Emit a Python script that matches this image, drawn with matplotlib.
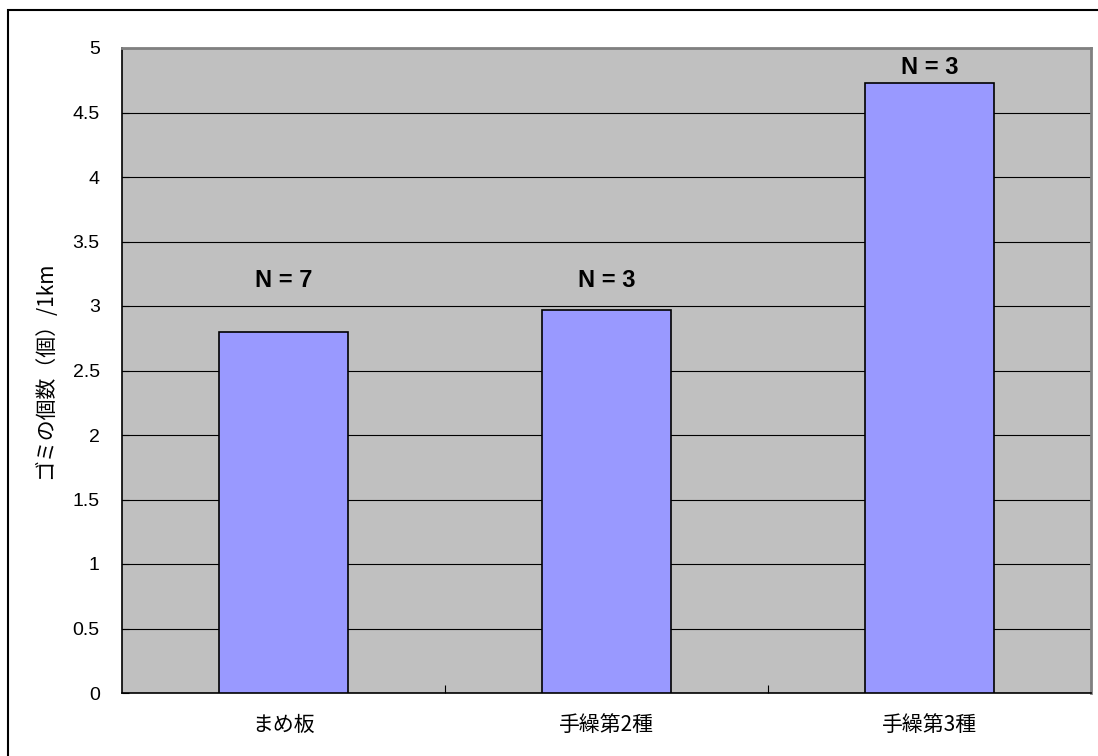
import matplotlib
matplotlib.use("Agg")
import matplotlib.pyplot as plt
from matplotlib.patches import Rectangle

plt.rcParams['font.family'] = ['Noto Sans CJK JP', 'DejaVu Sans']
NUM_FONT = ['Liberation Sans', 'DejaVu Sans']

categories = ["まめ板", "手繰第2種", "手繰第3種"]
values = [2.80, 2.97, 4.73]
n_labels = ["N = 7", "N = 3", "N = 3"]
n_label_y = [3.2, 3.2, 4.85]
yticks = [0, 0.5, 1, 1.5, 2, 2.5, 3, 3.5, 4, 4.5, 5]
ytick_labels = ["0", "0.5", "1", "1.5", "2", "2.5", "3", "3.5", "4", "4.5", "5"]
ylabel = "ゴミの個数（個）/1km"

fig = plt.figure(figsize=(10.98, 7.56), dpi=100)
fig.patch.set_facecolor("white")
# outer frame (only top/left visible in reference)
fig.add_artist(Rectangle((8/1098, -0.05), 1.2, 1 - 10/756 + 0.05, transform=fig.transFigure,
                         fill=False, edgecolor="black", linewidth=1.5))

ax = fig.add_axes([122/1098, 1 - 693/756, (1091 - 122)/1098, (693 - 48)/756])
ax.set_facecolor("#c0c0c0")
x = list(range(len(categories)))
ax.bar(x, values, width=0.4, color="#9999ff", edgecolor="black", linewidth=1.2, zorder=3)
ax.set_xlim(-0.5, len(categories) - 0.5)
ax.set_ylim(0, 5)
ax.set_yticks(yticks)
ax.set_yticklabels(ytick_labels, fontsize=14, family=NUM_FONT)
ax.yaxis.grid(True, color="black", linewidth=0.8, zorder=1)
ax.set_axisbelow(True)
ax.set_xticks([i + 0.5 for i in x[:-1]])
ax.set_xticklabels([])
ax.tick_params(axis="x", direction="in", length=6, width=0.8)
ax.tick_params(axis="y", direction="in", length=5, width=0.8, pad=16)
for i, c in enumerate(categories):
    ax.text(i, -0.16, c, ha="center", va="top", fontsize=15, transform=ax.transData)
for i, (lab, yy) in enumerate(zip(n_labels, n_label_y)):
    ax.text(i, yy, lab, ha="center", va="center", fontsize=17, fontweight="bold",
            family=NUM_FONT, zorder=4)
ax.set_ylabel(ylabel, fontsize=15, labelpad=12)
for s in ["left", "bottom"]:
    ax.spines[s].set_color("black")
    ax.spines[s].set_linewidth(1.2)
for s in ["top", "right"]:
    ax.spines[s].set_color("#808080")
    ax.spines[s].set_linewidth(2)

fig.savefig("out.png", dpi=100)
